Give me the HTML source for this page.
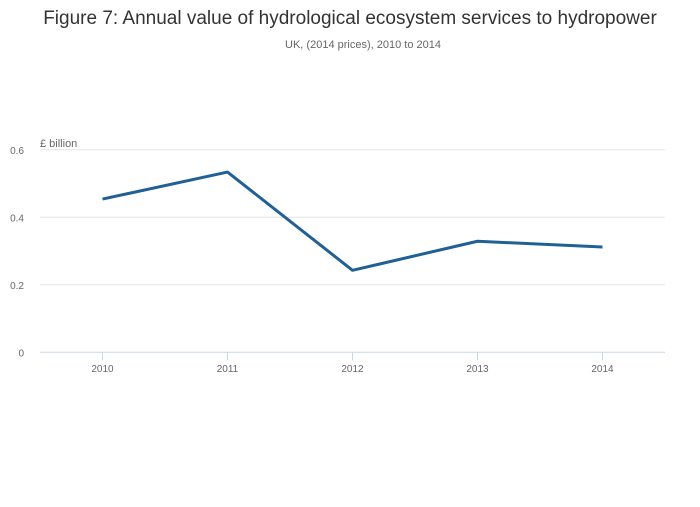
<!DOCTYPE html>
<html><head><meta charset="utf-8">
<style>
body{margin:0;background:#fff;width:700px;height:502px;overflow:hidden;font-family:"Liberation Sans",sans-serif}
</style></head>
<body>
<svg id="chart" width="700" height="502" xmlns="http://www.w3.org/2000/svg" font-family="Liberation Sans, sans-serif">
<text x="350" y="24" text-anchor="middle" font-size="19" fill="#333">Figure 7: Annual value of hydrological ecosystem services to hydropower</text>
<text x="363" y="48" text-anchor="middle" font-size="11" fill="#666">UK, (2014 prices), 2010 to 2014</text>
<text x="40" y="147" font-size="11" fill="#666">£ billion</text>
<g id="grid"></g><g id="xaxis"></g><g id="series"></g>
</svg>
<script>
const categories=["2010","2011","2012","2013","2014"];
const values=[0.454,0.534,0.243,0.329,0.312];
const yTicks=[0,0.2,0.4,0.6];
const yTickLabels=["0","0.2","0.4","0.6"];
const NS="http://www.w3.org/2000/svg";
const L=40,R=665,Y0=352.3,YPX=337.5;
const step=(R-L)/categories.length;
function xs(i){return L+step*(i+0.5);}
function ys(v){return Y0-v*YPX;}
function mk(t,a,p){const e=document.createElementNS(NS,t);for(const k in a)e.setAttribute(k,a[k]);p.appendChild(e);return e;}
const grid=document.getElementById('grid');
yTicks.forEach((v,i)=>{
  if(v!==0){const g=mk('line',{x1:L,x2:R,y1:ys(v),y2:ys(v),stroke:'#e6e6e6','stroke-width':1},grid);
  
  }
  const t=mk('text',{x:24,y:ys(v)+4,'text-anchor':'end','font-size':10,fill:'#666'},grid);
  t.textContent=yTickLabels[i];
  
  
});
const xa=document.getElementById('xaxis');
const ax=mk('line',{x1:L,x2:R,y1:Y0,y2:Y0,stroke:'#ccd6eb','stroke-width':1},xa);


categories.forEach((c,i)=>{
  const tk=mk('line',{x1:xs(i),x2:xs(i),y1:Y0,y2:Y0+8,stroke:'#ccd6eb'},xa);
  
  
  const t=mk('text',{x:xs(i),y:372,'text-anchor':'middle','font-size':10,fill:'#666'},xa);
  t.textContent=c;
  
  
});
const s=document.getElementById('series');
const p=mk('polyline',{points:values.map((v,i)=>xs(i)+','+ys(v)).join(' '),fill:'none',stroke:'#206095','stroke-width':3,'stroke-linejoin':'round'},s);


</script>
</body></html>
